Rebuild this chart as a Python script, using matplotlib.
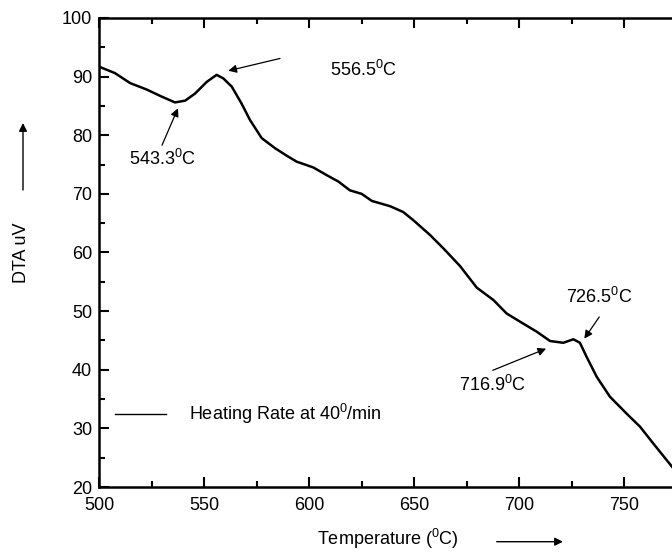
import numpy as np
import matplotlib
matplotlib.use('Agg')
import matplotlib.pyplot as plt

plt.rcParams['font.family'] = ['Liberation Sans', 'DejaVu Sans']
plt.rcParams['mathtext.fontset'] = 'custom'
plt.rcParams['mathtext.rm'] = 'Liberation Sans'
plt.rcParams['mathtext.it'] = 'Liberation Sans'

# DTA curve
temp = [500, 507.6, 514.8, 522.7, 529.8, 536.2, 541, 545.7, 551.3, 556, 559.2,
        563.2, 567.9, 571.9, 577.5, 583.8, 589, 594.1, 602.1, 608.4, 614, 619.5,
        625.1, 629.9, 638.6, 644.9, 649.7, 657.6, 664, 671.9, 679.9, 687.8,
        694.1, 700.5, 708.4, 714.8, 721.1, 725.9, 729, 732.2, 737, 743.3, 751.3,
        757.6, 764, 770.3, 773]
dta = [91.7, 90.6, 88.9, 87.8, 86.6, 85.6, 85.9, 87.1, 89.1, 90.3, 89.7,
       88.3, 85.4, 82.6, 79.5, 77.8, 76.6, 75.5, 74.5, 73.2, 72.1, 70.6,
       70.0, 68.8, 67.9, 66.9, 65.5, 63.0, 60.7, 57.7, 54.0, 51.9,
       49.6, 48.2, 46.5, 44.9, 44.6, 45.2, 44.6, 42.2, 38.8, 35.4, 32.5,
       30.3, 27.4, 24.6, 23.4]

# peak labels: text, text pos, arrow tail, arrow head
peak_labels = [r'543.3$^0$C', r'556.5$^0$C', r'716.9$^0$C', r'726.5$^0$C']
text_pos = [(514.5, 76.0), (610, 91.1), (671.6, 37.4), (722.4, 52.4)]
arrow_tail = [(530, 78.3), (586.2, 93.1), (687.5, 39.9), (738.2, 49.0)]
arrow_head = [(537.6, 84.6), (561.6, 91.0), (712.9, 43.6), (731.1, 45.3)]

fig = plt.figure(figsize=(6.72, 5.58), dpi=100)
ax = fig.add_axes([99 / 672, 1 - 487 / 558, 630 / 672, 469 / 558])
ax.plot(temp, dta, color='black', lw=1.8, solid_joinstyle='round')

ax.set_xlim(500, 800)
ax.set_ylim(20, 100)
ax.set_xticks(np.arange(500, 751, 50))
ax.set_xticks(np.arange(525, 800, 50), minor=True)
ax.set_yticks(np.arange(20, 101, 10))
ax.set_yticks(np.arange(25, 100, 10), minor=True)
ax.tick_params(which='both', direction='in', top=True, right=True,
               labelsize=13, width=1.5)
ax.tick_params(which='major', length=7)
ax.tick_params(axis='x', which='major', pad=7)
ax.tick_params(axis='y', which='major', pad=5)
ax.tick_params(which='minor', length=4)
for s in ax.spines.values():
    s.set_linewidth(1.8)

for lab, tp, tail, head in zip(peak_labels, text_pos, arrow_tail, arrow_head):
    ax.text(tp[0], tp[1], lab, fontsize=13, va='center', ha='left')
    ax.annotate('', xy=head, xytext=tail,
                arrowprops=dict(arrowstyle='-|>', color='black', lw=0.9,
                                mutation_scale=12, shrinkA=0, shrinkB=0))

# legend-like entry
ax.plot([507.6, 531.7], [32.4, 32.4], color='black', lw=1)
ax.text(542.7, 32.4, r'Heating Rate at 40$^0$/min', fontsize=13, va='center')

# axis labels with arrows
fig.text(22 / 672, 1 - 253 / 558, 'DTA uV', rotation=90, fontsize=13,
         ha='center', va='center')
fig.text(387.5 / 672, 1 - 539 / 558, r'Temperature ($^0$C)', fontsize=13,
         ha='center', va='center')
ax.annotate('', xy=(23 / 672, 1 - 123 / 558), xytext=(23 / 672, 1 - 190 / 558),
            xycoords='figure fraction', textcoords='figure fraction',
            arrowprops=dict(arrowstyle='-|>', color='black', lw=1,
                            mutation_scale=12, shrinkA=0, shrinkB=0),
            annotation_clip=False)
ax.annotate('', xy=(563 / 672, 1 - 541.7 / 558), xytext=(496.7 / 672, 1 - 541.7 / 558),
            xycoords='figure fraction', textcoords='figure fraction',
            arrowprops=dict(arrowstyle='-|>', color='black', lw=1,
                            mutation_scale=12, shrinkA=0, shrinkB=0),
            annotation_clip=False)

fig.savefig('out.png', dpi=100)
